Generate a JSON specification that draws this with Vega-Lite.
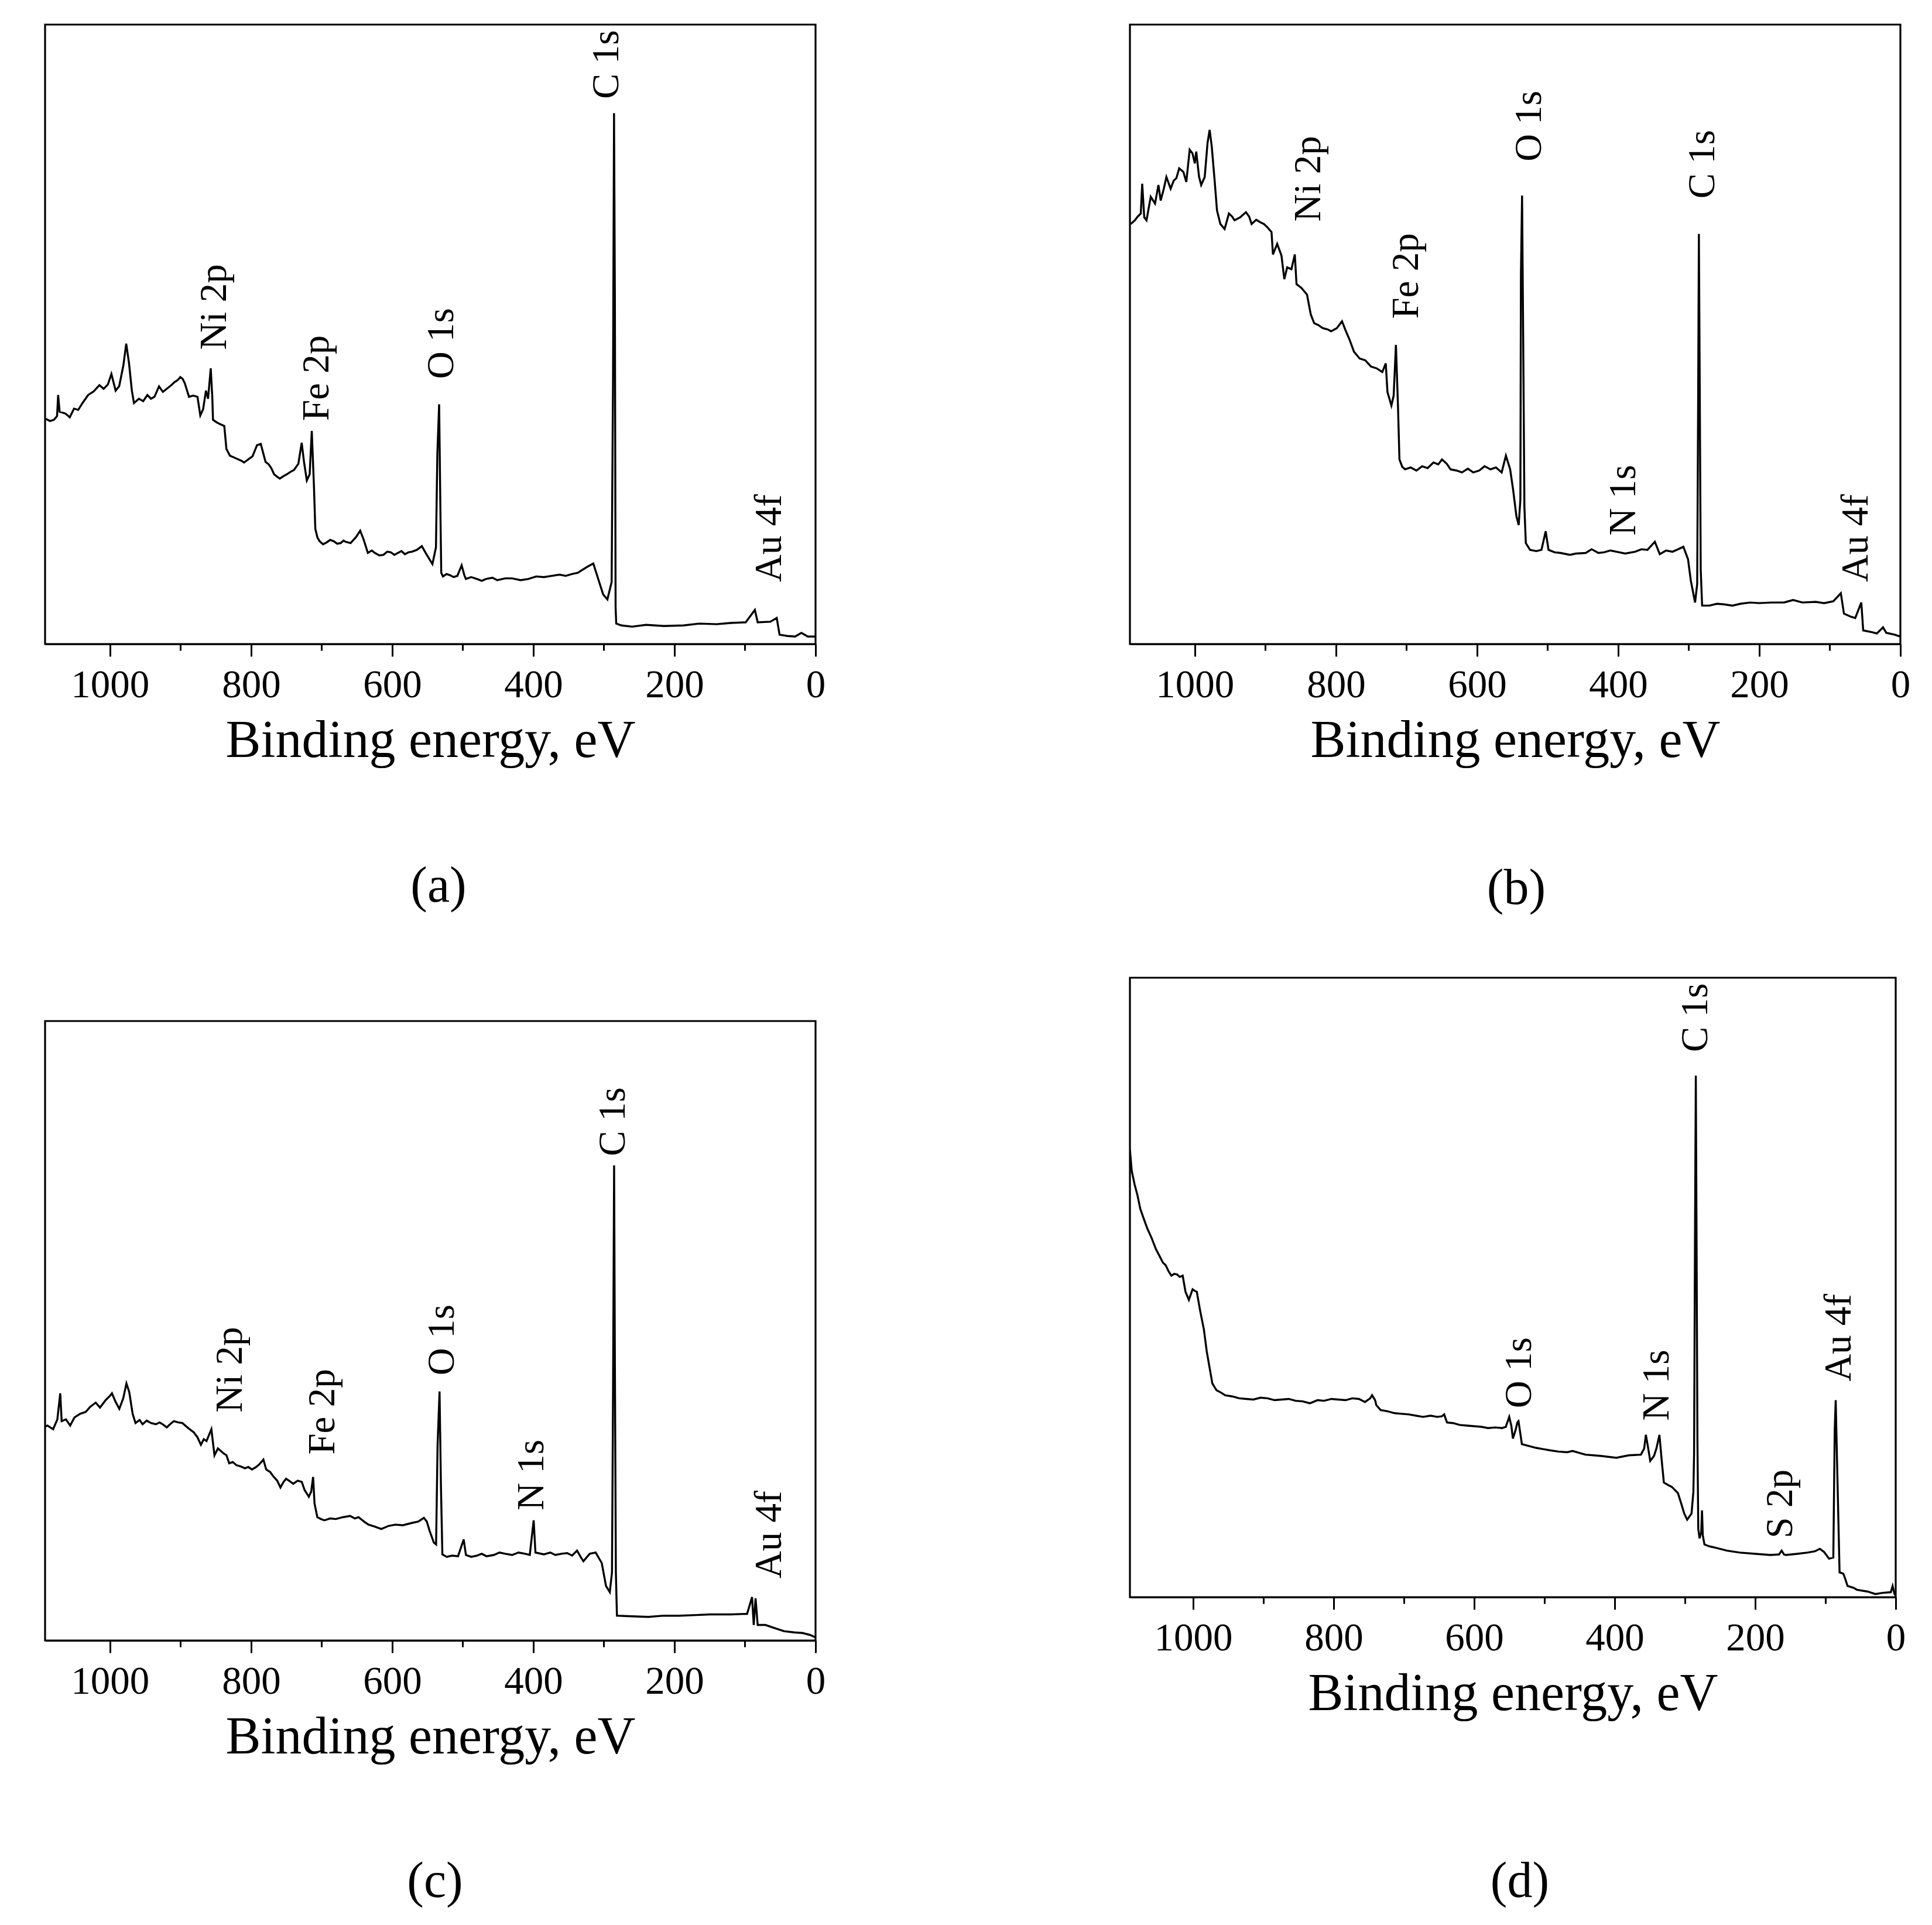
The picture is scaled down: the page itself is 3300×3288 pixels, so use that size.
{
"$schema": "https://vega.github.io/schema/vega-lite/v6.json",
"background": "white",
"padding": {"left": 75, "top": 40, "right": 5, "bottom": 5},
"config": {
  "view": {"stroke": "black", "strokeWidth": 3.2},
  "font": "Liberation Serif",
  "axis": {"domainColor": "black", "domainWidth": 3.2, "tickColor": "black", "tickWidth": 3, "labelColor": "black", "labelFont": "Liberation Serif", "labelFontSize": 67, "titleFont": "Liberation Serif", "titleFontSize": 90, "titleFontWeight": "normal", "titleColor": "black", "grid": false},
  "title": {"font": "Liberation Serif", "fontSize": 86, "fontWeight": "normal", "color": "black"}
},
"datasets": {
"a": [
{"ev":1092,"y":364},{"ev":1085,"y":360},{"ev":1079.5,"y":362},{"ev":1075,"y":368},{"ev":1073.5,"y":402},{"ev":1071.4,"y":375},{"ev":1063,"y":372},{"ev":1057,"y":366},{"ev":1051,"y":380},{"ev":1045,"y":378},{"ev":1039,"y":389},{"ev":1031,"y":402},{"ev":1023,"y":408},{"ev":1015,"y":418},{"ev":1009,"y":412},{"ev":1003,"y":419},{"ev":998,"y":436},{"ev":992,"y":409},{"ev":987,"y":416},{"ev":981,"y":450},{"ev":977,"y":485},{"ev":973,"y":453},{"ev":969,"y":409},{"ev":966,"y":389},{"ev":959,"y":396},{"ev":953,"y":392},{"ev":947,"y":402},{"ev":942,"y":396},{"ev":937,"y":399},{"ev":930.5,"y":416},{"ev":925,"y":407},{"ev":918.4,"y":413},{"ev":913,"y":418},{"ev":908.3,"y":423},{"ev":904,"y":426},{"ev":900.3,"y":431},{"ev":897,"y":428},{"ev":894,"y":421},{"ev":888,"y":399},{"ev":882,"y":401},{"ev":876,"y":399},{"ev":872,"y":369},{"ev":868,"y":379},{"ev":864,"y":409},{"ev":861,"y":396},{"ev":857.2,"y":445},{"ev":855,"y":399},{"ev":854,"y":362},{"ev":849,"y":358},{"ev":844,"y":355},{"ev":838,"y":352},{"ev":835,"y":315},{"ev":830,"y":304},{"ev":824,"y":301},{"ev":818,"y":298},{"ev":814,"y":296},{"ev":810,"y":293},{"ev":804,"y":298},{"ev":798,"y":303},{"ev":791.6,"y":321},{"ev":786.3,"y":323},{"ev":779.5,"y":294},{"ev":775,"y":290},{"ev":771.4,"y":284},{"ev":767.4,"y":274},{"ev":763,"y":270},{"ev":759.3,"y":267},{"ev":754,"y":271},{"ev":749.3,"y":274},{"ev":744,"y":278},{"ev":739.2,"y":281},{"ev":733,"y":291},{"ev":728.3,"y":325},{"ev":725,"y":294},{"ev":721,"y":264},{"ev":717,"y":274},{"ev":714,"y":344},{"ev":711,"y":257},{"ev":709,"y":186},{"ev":706,"y":172},{"ev":703,"y":166},{"ev":698,"y":161},{"ev":693,"y":164},{"ev":688,"y":168},{"ev":683,"y":166},{"ev":678,"y":162},{"ev":673,"y":163},{"ev":669,"y":167},{"ev":666,"y":165},{"ev":659,"y":163},{"ev":651,"y":173},{"ev":645.4,"y":183},{"ev":640.6,"y":169},{"ev":634.5,"y":147},{"ev":629,"y":151},{"ev":624.5,"y":147},{"ev":618,"y":143},{"ev":612.4,"y":144},{"ev":607,"y":149},{"ev":602,"y":148},{"ev":597,"y":144},{"ev":592,"y":147},{"ev":587,"y":150},{"ev":582,"y":145},{"ev":577,"y":148},{"ev":572,"y":149},{"ev":565,"y":152},{"ev":558,"y":158},{"ev":552,"y":146},{"ev":543,"y":129},{"ev":538,"y":156},{"ev":536,"y":308},{"ev":533.5,"y":387},{"ev":531.5,"y":200},{"ev":530.5,"y":115},{"ev":528,"y":109},{"ev":523,"y":113},{"ev":518,"y":111},{"ev":513,"y":108},{"ev":507.7,"y":110},{"ev":501.6,"y":127},{"ev":498,"y":112},{"ev":495.6,"y":105},{"ev":488,"y":108},{"ev":480,"y":105},{"ev":473,"y":102},{"ev":467,"y":105},{"ev":458,"y":107},{"ev":451,"y":103},{"ev":440,"y":106},{"ev":430,"y":106},{"ev":418,"y":103},{"ev":407,"y":105},{"ev":396,"y":109},{"ev":385,"y":108},{"ev":374,"y":110},{"ev":363,"y":112},{"ev":354,"y":110},{"ev":345,"y":113},{"ev":337,"y":115},{"ev":330,"y":120},{"ev":323,"y":125},{"ev":315,"y":130},{"ev":308,"y":105},{"ev":301,"y":80},{"ev":295,"y":72},{"ev":289,"y":100},{"ev":287,"y":430},{"ev":285.6,"y":857},{"ev":284.4,"y":560},{"ev":283.4,"y":60},{"ev":282.5,"y":33},{"ev":275,"y":30},{"ev":260,"y":28},{"ev":240,"y":31},{"ev":215,"y":29},{"ev":187,"y":30},{"ev":165,"y":33},{"ev":140,"y":32},{"ev":120,"y":34},{"ev":99,"y":35},{"ev":86,"y":55},{"ev":82,"y":35},{"ev":64,"y":36},{"ev":55,"y":42},{"ev":51,"y":15},{"ev":40,"y":13},{"ev":29,"y":12},{"ev":20,"y":18},{"ev":11,"y":12},{"ev":0,"y":12}
],
"aL": [
{"lbl":"Ni 2p","ev":835.7,"y":475},{"lbl":"Fe 2p","ev":690.7,"y":360},{"lbl":"O 1s","ev":514,"y":428},{"lbl":"C 1s","ev":279.4,"y":880},{"lbl":"Au 4f","ev":49.2,"y":100}
],
"b": [
{"ev":1091,"y":678},{"ev":1085,"y":684},{"ev":1081,"y":690},{"ev":1076.6,"y":695},{"ev":1074.6,"y":743},{"ev":1071.7,"y":689},{"ev":1068.5,"y":684},{"ev":1062.5,"y":722},{"ev":1056.4,"y":711},{"ev":1051.6,"y":741},{"ev":1048.4,"y":716},{"ev":1044,"y":735},{"ev":1040.3,"y":754},{"ev":1034.3,"y":735},{"ev":1030,"y":748},{"ev":1026.2,"y":752},{"ev":1022.2,"y":768},{"ev":1016.2,"y":762},{"ev":1012.1,"y":746},{"ev":1007.3,"y":798},{"ev":1003.3,"y":792},{"ev":1000,"y":776},{"ev":998,"y":795},{"ev":994,"y":754},{"ev":991,"y":741},{"ev":986,"y":754},{"ev":982,"y":809},{"ev":979,"y":830},{"ev":976,"y":803},{"ev":972,"y":749},{"ev":968.6,"y":700},{"ev":963.8,"y":678},{"ev":957.8,"y":670},{"ev":951.7,"y":695},{"ev":947,"y":690},{"ev":943.7,"y":684},{"ev":935.6,"y":689},{"ev":927.6,"y":697},{"ev":923,"y":690},{"ev":919.5,"y":678},{"ev":913,"y":685},{"ev":907.4,"y":681},{"ev":902,"y":678},{"ev":897.4,"y":673},{"ev":891.3,"y":665},{"ev":889.3,"y":629},{"ev":883.3,"y":646},{"ev":877.2,"y":627},{"ev":873.2,"y":589},{"ev":869.2,"y":608},{"ev":863.1,"y":605},{"ev":858.3,"y":629},{"ev":855.9,"y":581},{"ev":849,"y":575},{"ev":841,"y":564},{"ev":835.7,"y":532},{"ev":830.9,"y":518},{"ev":825,"y":515},{"ev":818.8,"y":510},{"ev":812,"y":508},{"ev":806.8,"y":505},{"ev":798.7,"y":510},{"ev":791.4,"y":521},{"ev":786.6,"y":507},{"ev":780.6,"y":491},{"ev":774.5,"y":472},{"ev":766.5,"y":461},{"ev":758.4,"y":458},{"ev":750.4,"y":448},{"ev":742.3,"y":445},{"ev":734.3,"y":439},{"ev":729.4,"y":453},{"ev":727,"y":407},{"ev":721.4,"y":385},{"ev":718.2,"y":401},{"ev":715,"y":483},{"ev":712.1,"y":385},{"ev":710,"y":298},{"ev":706,"y":286},{"ev":702,"y":282},{"ev":694,"y":285},{"ev":686,"y":280},{"ev":677.9,"y":287},{"ev":670,"y":284},{"ev":661.8,"y":293},{"ev":655,"y":290},{"ev":649.7,"y":298},{"ev":643,"y":291},{"ev":637.6,"y":282},{"ev":629,"y":280},{"ev":621.5,"y":277},{"ev":613,"y":283},{"ev":605.4,"y":277},{"ev":597,"y":280},{"ev":589.3,"y":287},{"ev":581,"y":282},{"ev":573.2,"y":285},{"ev":565.1,"y":277},{"ev":559.1,"y":304},{"ev":553.1,"y":282},{"ev":549,"y":250},{"ev":544.2,"y":206},{"ev":541,"y":192},{"ev":538.6,"y":233},{"ev":537.8,"y":597},{"ev":536.2,"y":724},{"ev":534.5,"y":477},{"ev":532.9,"y":222},{"ev":530.9,"y":163},{"ev":524.9,"y":152},{"ev":516,"y":150},{"ev":508.7,"y":152},{"ev":502.7,"y":182},{"ev":498.7,"y":152},{"ev":490,"y":148},{"ev":481.5,"y":147},{"ev":468.5,"y":144},{"ev":460,"y":146},{"ev":446,"y":147},{"ev":437.6,"y":153},{"ev":428,"y":147},{"ev":420,"y":148},{"ev":411,"y":151},{"ev":402.5,"y":149},{"ev":390,"y":146},{"ev":376,"y":149},{"ev":367,"y":153},{"ev":358.5,"y":152},{"ev":348,"y":165},{"ev":341,"y":145},{"ev":332,"y":151},{"ev":323,"y":149},{"ev":315,"y":153},{"ev":307.6,"y":157},{"ev":301,"y":137},{"ev":297,"y":102},{"ev":291,"y":67},{"ev":288,"y":97},{"ev":286.6,"y":400},{"ev":285.6,"y":662},{"ev":284.4,"y":420},{"ev":283,"y":120},{"ev":281,"y":62},{"ev":270.6,"y":62},{"ev":260,"y":65},{"ev":250,"y":64},{"ev":238,"y":62},{"ev":226.7,"y":65},{"ev":213,"y":67},{"ev":200,"y":66},{"ev":182.8,"y":67},{"ev":165,"y":67},{"ev":152,"y":71},{"ev":138.8,"y":67},{"ev":120,"y":68},{"ev":108,"y":66},{"ev":95,"y":69},{"ev":84.4,"y":82},{"ev":80,"y":49},{"ev":70,"y":44},{"ev":64,"y":42},{"ev":55.4,"y":67},{"ev":52.7,"y":22},{"ev":40,"y":19},{"ev":33.4,"y":17},{"ev":24.6,"y":27},{"ev":20,"y":18},{"ev":15.8,"y":17},{"ev":8,"y":15},{"ev":0,"y":12}
],
"bL": [
{"lbl":"Ni 2p","ev":822.5,"y":682},{"lbl":"Fe 2p","ev":683.7,"y":525},{"lbl":"O 1s","ev":509.7,"y":779},{"lbl":"N 1s","ev":376,"y":175},{"lbl":"C 1s","ev":263.6,"y":719},{"lbl":"Au 4f","ev":46.6,"y":100}
],
"c": [
{"ev":1092,"y":345},{"ev":1088.7,"y":347},{"ev":1080.6,"y":341},{"ev":1074.6,"y":357},{"ev":1070.5,"y":399},{"ev":1068.5,"y":354},{"ev":1062.5,"y":357},{"ev":1056.4,"y":347},{"ev":1050.4,"y":360},{"ev":1042.3,"y":366},{"ev":1034.3,"y":369},{"ev":1028.3,"y":377},{"ev":1020.2,"y":384},{"ev":1014.2,"y":376},{"ev":1006.1,"y":388},{"ev":1000,"y":395},{"ev":997.2,"y":399},{"ev":992,"y":385},{"ev":986.8,"y":374},{"ev":981.2,"y":391},{"ev":976.7,"y":415},{"ev":972.7,"y":401},{"ev":967.9,"y":366},{"ev":963.8,"y":351},{"ev":958,"y":356},{"ev":953.8,"y":349},{"ev":948,"y":355},{"ev":941.7,"y":351},{"ev":935,"y":349},{"ev":929.6,"y":352},{"ev":924,"y":348},{"ev":919.5,"y":344},{"ev":914,"y":350},{"ev":909.5,"y":354},{"ev":903,"y":352},{"ev":897.4,"y":351},{"ev":889.3,"y":343},{"ev":881.3,"y":336},{"ev":876,"y":328},{"ev":871.2,"y":316},{"ev":867,"y":325},{"ev":863.2,"y":322},{"ev":856.3,"y":341},{"ev":851.9,"y":299},{"ev":847,"y":310},{"ev":843,"y":306},{"ev":839,"y":302},{"ev":835,"y":299},{"ev":831,"y":286},{"ev":826,"y":288},{"ev":820.9,"y":283},{"ev":815,"y":281},{"ev":808.8,"y":278},{"ev":804,"y":280},{"ev":798.7,"y":276},{"ev":793,"y":280},{"ev":788.7,"y":284},{"ev":782.6,"y":292},{"ev":778.6,"y":276},{"ev":773,"y":272},{"ev":768.5,"y":265},{"ev":763,"y":258},{"ev":758.4,"y":247},{"ev":754,"y":256},{"ev":750.4,"y":261},{"ev":745,"y":257},{"ev":740.3,"y":253},{"ev":734,"y":258},{"ev":728.2,"y":256},{"ev":724.2,"y":243},{"ev":718.2,"y":232},{"ev":714.9,"y":240},{"ev":712.1,"y":264},{"ev":710.1,"y":221},{"ev":706.1,"y":199},{"ev":701,"y":196},{"ev":696,"y":194},{"ev":688,"y":197},{"ev":679.9,"y":196},{"ev":670,"y":199},{"ev":659.8,"y":201},{"ev":653,"y":197},{"ev":647.7,"y":199},{"ev":640,"y":192},{"ev":633.6,"y":187},{"ev":625,"y":184},{"ev":615.5,"y":180},{"ev":605,"y":185},{"ev":595.4,"y":187},{"ev":585,"y":186},{"ev":571.2,"y":190},{"ev":563,"y":192},{"ev":555.1,"y":198},{"ev":551,"y":192},{"ev":547,"y":177},{"ev":541,"y":158},{"ev":537.8,"y":155},{"ev":535.7,"y":316},{"ev":532.9,"y":402},{"ev":530.9,"y":247},{"ev":528.9,"y":139},{"ev":522.8,"y":135},{"ev":515,"y":137},{"ev":506.7,"y":136},{"ev":498.7,"y":163},{"ev":495.5,"y":138},{"ev":488,"y":135},{"ev":480,"y":137},{"ev":473,"y":140},{"ev":466.5,"y":136},{"ev":456,"y":138},{"ev":448,"y":142},{"ev":440,"y":140},{"ev":430,"y":138},{"ev":421,"y":142},{"ev":412,"y":140},{"ev":405,"y":138},{"ev":399.5,"y":194},{"ev":397,"y":142},{"ev":385,"y":139},{"ev":376,"y":142},{"ev":368.7,"y":138},{"ev":360,"y":140},{"ev":352,"y":141},{"ev":345,"y":137},{"ev":338,"y":145},{"ev":333,"y":135},{"ev":329,"y":128},{"ev":320,"y":140},{"ev":311.7,"y":142},{"ev":303,"y":125},{"ev":297,"y":88},{"ev":291.6,"y":78},{"ev":288.5,"y":110},{"ev":287,"y":400},{"ev":285.5,"y":767},{"ev":284.4,"y":450},{"ev":283,"y":110},{"ev":281.5,"y":40},{"ev":260,"y":39},{"ev":237,"y":38},{"ev":215,"y":40},{"ev":193.5,"y":40},{"ev":170,"y":41},{"ev":149.7,"y":42},{"ev":120,"y":42},{"ev":97,"y":43},{"ev":90,"y":70},{"ev":87.6,"y":25},{"ev":85,"y":68},{"ev":82,"y":25},{"ev":71,"y":25},{"ev":58,"y":20},{"ev":44.7,"y":15},{"ev":30,"y":13},{"ev":18.4,"y":12},{"ev":8,"y":9},{"ev":0,"y":5}
],
"cL": [
{"lbl":"Ni 2p","ev":813.5,"y":368},{"lbl":"Fe 2p","ev":682,"y":300},{"lbl":"O 1s","ev":513,"y":428},{"lbl":"N 1s","ev":386,"y":210},{"lbl":"C 1s","ev":270.6,"y":782},{"lbl":"Au 4f","ev":49,"y":100}
],
"d": [
{"ev":1090,"y":722},{"ev":1087.4,"y":688},{"ev":1083.3,"y":666},{"ev":1079.3,"y":649},{"ev":1075.3,"y":627},{"ev":1071.3,"y":614},{"ev":1065.2,"y":595},{"ev":1059.2,"y":580},{"ev":1053.1,"y":562},{"ev":1047.1,"y":549},{"ev":1043,"y":540},{"ev":1039.1,"y":536},{"ev":1035,"y":526},{"ev":1031,"y":519},{"ev":1027,"y":522},{"ev":1023,"y":521},{"ev":1019,"y":517},{"ev":1014.9,"y":519},{"ev":1010.9,"y":493},{"ev":1006.1,"y":480},{"ev":1000.8,"y":497},{"ev":997,"y":494},{"ev":994.8,"y":493},{"ev":990,"y":462},{"ev":984.7,"y":432},{"ev":980.7,"y":397},{"ev":976.7,"y":371},{"ev":972.7,"y":345},{"ev":969,"y":338},{"ev":966.6,"y":334},{"ev":960,"y":330},{"ev":954.6,"y":326},{"ev":944,"y":324},{"ev":934.4,"y":321},{"ev":924,"y":320},{"ev":914.3,"y":319},{"ev":904,"y":322},{"ev":894.2,"y":321},{"ev":884,"y":318},{"ev":874.1,"y":319},{"ev":864,"y":320},{"ev":854,"y":317},{"ev":844,"y":316},{"ev":833.8,"y":313},{"ev":823,"y":318},{"ev":813.7,"y":317},{"ev":803,"y":320},{"ev":793.6,"y":319},{"ev":783,"y":318},{"ev":773.5,"y":321},{"ev":764,"y":320},{"ev":755.4,"y":315},{"ev":748,"y":321},{"ev":745.3,"y":326},{"ev":741,"y":318},{"ev":739.3,"y":310},{"ev":733.2,"y":302},{"ev":723,"y":300},{"ev":713.1,"y":297},{"ev":703,"y":296},{"ev":693,"y":295},{"ev":683,"y":293},{"ev":672.9,"y":291},{"ev":662,"y":293},{"ev":652.8,"y":291},{"ev":646,"y":292},{"ev":642.7,"y":295},{"ev":638.7,"y":282},{"ev":630,"y":281},{"ev":620.6,"y":278},{"ev":610,"y":277},{"ev":600.4,"y":276},{"ev":590,"y":275},{"ev":580.3,"y":273},{"ev":570,"y":274},{"ev":560.2,"y":273},{"ev":555,"y":275},{"ev":550.1,"y":291},{"ev":547,"y":276},{"ev":544.9,"y":256},{"ev":541,"y":270},{"ev":538.5,"y":282},{"ev":536.9,"y":284},{"ev":534,"y":262},{"ev":532.1,"y":247},{"ev":522,"y":244},{"ev":511.9,"y":241},{"ev":502,"y":239},{"ev":491.8,"y":237},{"ev":480,"y":235},{"ev":467.6,"y":234},{"ev":460,"y":236},{"ev":441.6,"y":230},{"ev":420,"y":228},{"ev":397.7,"y":225},{"ev":380,"y":229},{"ev":362.6,"y":230},{"ev":358,"y":240},{"ev":355.6,"y":262},{"ev":353,"y":245},{"ev":349.4,"y":220},{"ev":344,"y":228},{"ev":340.6,"y":240},{"ev":336.3,"y":262},{"ev":333,"y":220},{"ev":330,"y":185},{"ev":324,"y":181},{"ev":318.7,"y":178},{"ev":310,"y":168},{"ev":305,"y":150},{"ev":301,"y":135},{"ev":296.8,"y":125},{"ev":290.6,"y":135},{"ev":288,"y":170},{"ev":287,"y":230},{"ev":285.6,"y":600},{"ev":284.5,"y":842},{"ev":283.4,"y":560},{"ev":282.2,"y":250},{"ev":281,"y":110},{"ev":279.2,"y":95},{"ev":276.8,"y":105},{"ev":275.7,"y":140},{"ev":274.6,"y":100},{"ev":272.2,"y":85},{"ev":265,"y":82},{"ev":257.2,"y":80},{"ev":240,"y":75},{"ev":222,"y":72},{"ev":200,"y":70},{"ev":178.2,"y":68},{"ev":166,"y":69},{"ev":162.4,"y":75},{"ev":159,"y":69},{"ev":156.3,"y":68},{"ev":140,"y":70},{"ev":125.5,"y":72},{"ev":115,"y":74},{"ev":108,"y":78},{"ev":102,"y":73},{"ev":94.8,"y":62},{"ev":88.8,"y":64},{"ev":86.8,"y":270},{"ev":85.4,"y":318},{"ev":83.5,"y":220},{"ev":81.7,"y":130},{"ev":79.9,"y":40},{"ev":74.6,"y":38},{"ev":72,"y":30},{"ev":68.5,"y":18},{"ev":60,"y":15},{"ev":55.3,"y":12},{"ev":40,"y":9},{"ev":29,"y":5},{"ev":18,"y":7},{"ev":7,"y":8},{"ev":4.4,"y":18},{"ev":2,"y":6},{"ev":0,"y":2}
],
"dL": [
{"lbl":"O 1s","ev":519,"y":305},{"lbl":"N 1s","ev":323,"y":285},{"lbl":"C 1s","ev":268,"y":880},{"lbl":"S 2p","ev":147.5,"y":95},{"lbl":"Au 4f","ev":64,"y":348}
]
},
"spacing": 516,
"hconcat": [
 {"bounds": "flush", "spacing": 644, "vconcat": [
  {"width": 1316, "height": 1058,
   "title": {"text": "(a)", "orient": "bottom", "frame": "group", "anchor": "middle", "baseline": "alphabetic", "offset": 230, "dx": 14},
   "encoding": {
     "x": {"field": "ev", "type": "quantitative", "scale": {"domain": [0, 1092], "reverse": true, "nice": false, "zero": false},
       "axis": {"values": [0,100,200,300,400,500,600,700,800,900,1000], "format": "d", "labelExpr": "datum.value % 200 === 0 ? datum.label : ''", "tickSize": {"condition": {"test": "datum.value % 200 === 0", "value": 21}, "value": 11}, "labelBaseline": "alphabetic", "labelPadding": 69, "labelFlush": false, "labelOverlap": false, "title": "Binding energy, eV", "titleBaseline": "alphabetic", "titleY": 192, "titleX": 658, "titleAlign": "center"}},
     "y": {"field": "y", "type": "quantitative", "scale": {"domain": [0, 1000], "nice": false, "zero": false}, "axis": null}
   },
   "layer": [
     {"data": {"name": "a"}, "mark": {"type": "line", "color": "black", "strokeWidth": 3.4, "clip": true}},
     {"data": {"name": "aL"}, "mark": {"type": "text", "angle": 270, "align": "left", "baseline": "alphabetic", "font": "Liberation Serif", "fontSize": 65, "color": "black"}, "encoding": {"text": {"field": "lbl"}}}
   ]},
  {"width": 1316, "height": 1058,
   "title": {"text": "(c)", "orient": "bottom", "frame": "group", "anchor": "middle", "baseline": "alphabetic", "offset": 228, "dx": 8},
   "encoding": {
     "x": {"field": "ev", "type": "quantitative", "scale": {"domain": [0, 1092], "reverse": true, "nice": false, "zero": false},
       "axis": {"values": [0,100,200,300,400,500,600,700,800,900,1000], "format": "d", "labelExpr": "datum.value % 200 === 0 ? datum.label : ''", "tickSize": {"condition": {"test": "datum.value % 200 === 0", "value": 21}, "value": 11}, "labelBaseline": "alphabetic", "labelPadding": 69, "labelFlush": false, "labelOverlap": false, "title": "Binding energy, eV", "titleBaseline": "alphabetic", "titleY": 192, "titleX": 658, "titleAlign": "center"}},
     "y": {"field": "y", "type": "quantitative", "scale": {"domain": [0, 1000], "nice": false, "zero": false}, "axis": null}
   },
   "layer": [
     {"data": {"name": "c"}, "mark": {"type": "line", "color": "black", "strokeWidth": 3.4, "clip": true}},
     {"data": {"name": "cL"}, "mark": {"type": "text", "angle": 270, "align": "left", "baseline": "alphabetic", "font": "Liberation Serif", "fontSize": 65, "color": "black"}, "encoding": {"text": {"field": "lbl"}}}
   ]}
 ]},
 {"bounds": "flush", "spacing": 570, "vconcat": [
  {"width": 1316, "height": 1058,
   "title": {"text": "(b)", "orient": "bottom", "frame": "group", "anchor": "middle", "baseline": "alphabetic", "offset": 234, "dx": 2},
   "encoding": {
     "x": {"field": "ev", "type": "quantitative", "scale": {"domain": [0, 1092], "reverse": true, "nice": false, "zero": false},
       "axis": {"values": [0,100,200,300,400,500,600,700,800,900,1000], "format": "d", "labelExpr": "datum.value % 200 === 0 ? datum.label : ''", "tickSize": {"condition": {"test": "datum.value % 200 === 0", "value": 21}, "value": 11}, "labelBaseline": "alphabetic", "labelPadding": 69, "labelFlush": false, "labelOverlap": false, "title": "Binding energy, eV", "titleBaseline": "alphabetic", "titleY": 192, "titleX": 658, "titleAlign": "center"}},
     "y": {"field": "y", "type": "quantitative", "scale": {"domain": [0, 1000], "nice": false, "zero": false}, "axis": null}
   },
   "layer": [
     {"data": {"name": "b"}, "mark": {"type": "line", "color": "black", "strokeWidth": 3.4, "clip": true}},
     {"data": {"name": "bL"}, "mark": {"type": "text", "angle": 270, "align": "left", "baseline": "alphabetic", "font": "Liberation Serif", "fontSize": 65, "color": "black"}, "encoding": {"text": {"field": "lbl"}}}
   ]},
  {"width": 1308, "height": 1058,
   "title": {"text": "(d)", "orient": "bottom", "frame": "group", "anchor": "middle", "baseline": "alphabetic", "offset": 302, "dx": 12},
   "encoding": {
     "x": {"field": "ev", "type": "quantitative", "scale": {"domain": [0, 1090], "reverse": true, "nice": false, "zero": false},
       "axis": {"values": [0,100,200,300,400,500,600,700,800,900,1000], "format": "d", "labelExpr": "datum.value % 200 === 0 ? datum.label : ''", "tickSize": {"condition": {"test": "datum.value % 200 === 0", "value": 21}, "value": 11}, "labelBaseline": "alphabetic", "labelPadding": 69, "labelFlush": false, "labelOverlap": false, "title": "Binding energy, eV", "titleBaseline": "alphabetic", "titleY": 192, "titleX": 654, "titleAlign": "center"}},
     "y": {"field": "y", "type": "quantitative", "scale": {"domain": [0, 1000], "nice": false, "zero": false}, "axis": null}
   },
   "layer": [
     {"data": {"name": "d"}, "mark": {"type": "line", "color": "black", "strokeWidth": 3.4, "clip": true}},
     {"data": {"name": "dL"}, "mark": {"type": "text", "angle": 270, "align": "left", "baseline": "alphabetic", "font": "Liberation Serif", "fontSize": 65, "color": "black"}, "encoding": {"text": {"field": "lbl"}}}
   ]}
 ]}
]
}
